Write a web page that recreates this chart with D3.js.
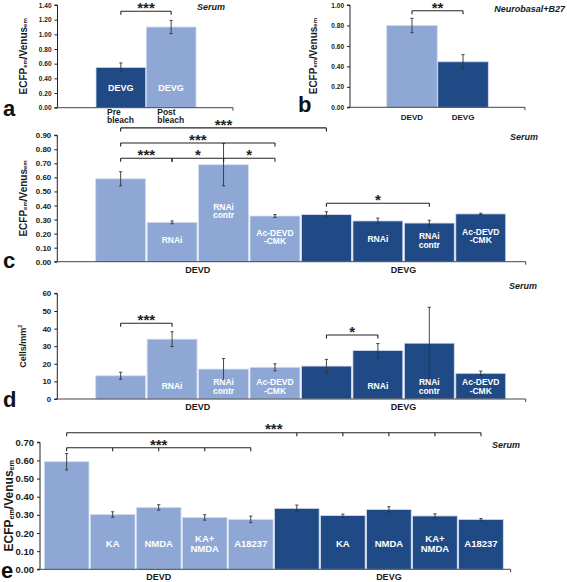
<!DOCTYPE html>
<html><head><meta charset="utf-8">
<script src="https://cdn.jsdelivr.net/npm/d3@7"></script>
<style>
body{margin:0;background:#fff}
svg{display:block}
text{font-family:"Liberation Sans",Arial,sans-serif;font-weight:bold}
</style>
</head><body>
<svg id="chart" width="567" height="582"></svg>
<script>
// ---------- DATA ----------
// Panel a (Serum)
const aCategories = ["Pre\nbleach", "Post\nbleach"];
const aBarLabels = ["DEVG", "DEVG"];
const aValues = [0.55, 1.10];
const aErrors = [0.06, 0.09];
const aTicks = [0, 0.2, 0.4, 0.6, 0.8, 1.0, 1.2, 1.4];

// Panel b (Neurobasal+B27)
const bCategories = ["DEVD", "DEVG"];
const bValues = [0.80, 0.445];
const bErrors = [0.07, 0.07];
const bTicks = [0, 0.2, 0.4, 0.6, 0.8, 1.0];

// Panel c (Serum) – ECFP/Venus ratio
const cGroups = ["DEVD", "DEVD", "DEVD", "DEVD", "DEVG", "DEVG", "DEVG", "DEVG"];
const cBarLabels = ["", "RNAi", "RNAi\ncontr", "Ac-DEVD\n-CMK", "", "RNAi", "RNAi\ncontr", "Ac-DEVD\n-CMK"];
const cValues = [0.59, 0.28, 0.69, 0.325, 0.335, 0.29, 0.275, 0.34];
const cErrors = [0.05, 0.01, 0.15, 0.01, 0.02, 0.02, 0.02, 0.005];
const cTicks = [0, 0.1, 0.2, 0.3, 0.4, 0.5, 0.6, 0.7, 0.8, 0.9];

// Panel d (Serum) – Cells/mm2
const dGroups = cGroups;
const dBarLabels = cBarLabels;
const dValues = [13.2, 34.0, 17.0, 18.0, 18.7, 27.5, 31.7, 14.6];
const dErrors = [2.0, 4.2, 6.0, 2.0, 3.8, 4.0, 20.4, 1.3];
const dTicks = [0, 10, 20, 30, 40, 50, 60];

// Panel e (Serum)
const eGroups = ["DEVD", "DEVD", "DEVD", "DEVD", "DEVD", "DEVG", "DEVG", "DEVG", "DEVG", "DEVG"];
const eBarLabels = ["", "KA", "NMDA", "KA+\nNMDA", "A18237", "", "KA", "NMDA", "KA+\nNMDA", "A18237"];
const eValues = [0.593, 0.302, 0.341, 0.286, 0.275, 0.336, 0.296, 0.330, 0.294, 0.275];
const eErrors = [0.045, 0.015, 0.015, 0.015, 0.018, 0.018, 0.008, 0.015, 0.012, 0.005];
const eTicks = [0, 0.1, 0.2, 0.3, 0.4, 0.5, 0.6, 0.7];

// ---------- STYLE ----------
const LIGHT = "#8ea7d4";
const DARK = "#1f4a86";
const svg = d3.select("#chart");

function yLabelRatio(g, x, y, size) {
  const t = g.append("text")
    .attr("transform", `translate(${x},${y}) rotate(-90)`)
    .attr("text-anchor", "middle").attr("dominant-baseline", "central")
    .attr("font-size", size).attr("fill", "#1a1a1a");
  t.append("tspan").text("ECFP");
  t.append("tspan").text("em").attr("font-size", size * 0.6).attr("dy", size * 0.22);
  t.append("tspan").text("/Venus").attr("dy", -size * 0.22);
  t.append("tspan").text("em").attr("font-size", size * 0.6).attr("dy", size * 0.22);
}

function multiline(g, text, cx, cy, size, lh, fill, anchor) {
  const lines = text.split("\n");
  const t = g.append("text").attr("text-anchor", anchor || "middle")
    .attr("font-size", size).attr("fill", fill);
  const first = cy - (lines.length - 1) * lh / 2 + size * 0.35;
  lines.forEach((l, i) => {
    t.append("tspan").attr("x", cx).attr("y", first + i * lh).text(l);
  });
}

function drawPanel(cfg) {
  const g = svg.append("g");
  const n = cfg.values.length;
  const x = d3.scaleBand().domain(d3.range(n)).range(cfg.barRange).paddingInner(cfg.pad).paddingOuter(0);
  const y = d3.scaleLinear().domain([0, cfg.yMax]).range([cfg.y0, cfg.yTop]);
  const cx = i => x(i) + x.bandwidth() / 2;

  // bars
  g.selectAll("rect.bar").data(cfg.values).join("rect")
    .attr("x", (d, i) => x(i)).attr("y", d => y(d))
    .attr("width", x.bandwidth()).attr("height", d => cfg.y0 - y(d))
    .attr("fill", (d, i) => cfg.color(i))
    .attr("stroke", "#d3ddef").attr("stroke-width", 0.8);

  // error bars
  cfg.values.forEach((v, i) => {
    const e = cfg.errors[i];
    const xx = cx(i);
    g.append("line").attr("x1", xx).attr("x2", xx).attr("y1", y(v + e)).attr("y2", y(v - e))
      .attr("stroke", "#333").attr("stroke-width", 0.9);
    [v + e, v - e].forEach(w => g.append("line").attr("x1", xx - 1.6).attr("x2", xx + 1.6)
      .attr("y1", y(w)).attr("y2", y(w)).attr("stroke", "#333").attr("stroke-width", 0.9));
  });

  // bar labels
  if (cfg.barLabels) {
    cfg.barLabels.forEach((l, i) => {
      if (!l) return;
      const v = cfg.values[i];
      const my = cfg.labelAt === "center" ? (y(v) + cfg.y0) / 2 - 2 : y(cfg.labelAt);
      multiline(g, l, cx(i), my, cfg.labelSize, cfg.labelSize * 1.0, "#fff");
    });
  }

  // y axis
  const ax = g.append("g").attr("transform", `translate(${cfg.axisX},0)`)
    .call(d3.axisLeft(y).tickValues(cfg.ticks).tickFormat(cfg.fmt).tickSize(3).tickPadding(3));
  ax.select(".domain").attr("stroke", "#222").attr("d", `M-3,${cfg.y0}H0V${cfg.yTop}H-3`);
  ax.selectAll(".tick line").attr("stroke", "#222");
  ax.selectAll(".tick text").attr("font-size", cfg.tickSize).attr("fill", "#1a1a1a")
    .attr("font-family", "Liberation Sans, Arial, sans-serif").attr("font-weight", "bold");

  // x axis line
  g.append("line").attr("x1", cfg.axisX).attr("x2", cfg.xEnd).attr("y1", cfg.y0).attr("y2", cfg.y0)
    .attr("stroke", "#444").attr("stroke-width", 1);
  g.append("line").attr("x1", cfg.xEnd).attr("x2", cfg.xEnd).attr("y1", cfg.y0).attr("y2", cfg.y0 + 3)
    .attr("stroke", "#444").attr("stroke-width", 1);

  // brackets
  (cfg.brackets || []).forEach(b => {
    const by = y(b.level);
    const x1 = cx(b.from), x2 = cx(b.to);
    g.append("line").attr("x1", x1).attr("x2", x2).attr("y1", by).attr("y2", by)
      .attr("stroke", "#222").attr("stroke-width", 1.1);
    b.ticks.forEach(t => g.append("line").attr("x1", cx(t)).attr("x2", cx(t)).attr("y1", by).attr("y2", by + 3.5)
      .attr("stroke", "#222").attr("stroke-width", 1.1));
    g.append("text").attr("x", (x1 + x2) / 2).attr("y", by + 1.8).attr("text-anchor", "middle")
      .attr("font-size", 15).attr("fill", "#222").text(b.stars);
  });

  // category labels
  if (cfg.groups) {
    const groups = Array.from(new Set(cfg.groups));
    groups.forEach(gr => {
      const idx = cfg.groups.map((d, i) => d === gr ? i : -1).filter(i => i >= 0);
      const mid = (x(idx[0]) + x(idx[idx.length - 1]) + x.bandwidth()) / 2;
      g.append("text").attr("x", mid).attr("y", cfg.y0 + cfg.catDy).attr("text-anchor", "middle")
        .attr("font-size", cfg.catSize).attr("fill", "#1a1a1a").text(gr);
    });
  }
  if (cfg.categories) {
    cfg.categories.forEach((c, i) => {
      if (cfg.catAnchor === "start") {
        multiline(g, c, x(i) + 11, cfg.y0 + cfg.catDy, cfg.catSize, cfg.catSize, "#1a1a1a", "start");
      } else {
        multiline(g, c, cx(i), cfg.y0 + cfg.catDy, cfg.catSize, cfg.catSize, "#1a1a1a");
      }
    });
  }

  // y label
  if (cfg.yLabel === "ratio") yLabelRatio(g, cfg.yLabelX, (cfg.y0 + cfg.yTop) / 2, cfg.yLabelSize);
  else {
    const t = g.append("text")
      .attr("transform", `translate(${cfg.yLabelX},${(cfg.y0 + cfg.yTop) / 2}) rotate(-90)`)
      .attr("text-anchor", "middle").attr("dominant-baseline", "central")
      .attr("font-size", cfg.yLabelSize).attr("fill", "#1a1a1a");
    t.append("tspan").text("Cells/mm");
    t.append("tspan").text("2").attr("font-size", cfg.yLabelSize * 0.6).attr("dy", -cfg.yLabelSize * 0.35);
  }

  // medium note
  g.append("text").attr("x", cfg.note.x).attr("y", cfg.note.y).attr("text-anchor", cfg.note.anchor || "start")
    .attr("font-size", 9).attr("font-style", "italic").attr("fill", "#1a1a1a").text(cfg.note.text);

  // panel letter
  g.append("text").attr("x", cfg.letter.x).attr("y", cfg.letter.y).attr("font-size", 22)
    .attr("fill", "#111").text(cfg.letter.text);
}

const f2 = d3.format(".2f");
const byGroup = groups => i => groups[i] === "DEVD" ? LIGHT : DARK;

drawPanel({
  values: aValues, errors: aErrors, barLabels: aBarLabels, categories: aCategories, catAnchor: "start",
  color: i => i === 0 ? DARK : LIGHT,
  barRange: [96, 196], pad: 0.01, y0: 107.7, yTop: 5, yMax: 1.4, ticks: aTicks, fmt: f2, tickSize: 6.5,
  axisX: 57.5, xEnd: 233, labelAt: 0.27, labelSize: 9, catDy: 8.5, catSize: 8.5,
  brackets: [{from: 0, to: 1, ticks: [0, 1], level: 1.314, stars: "***"}],
  yLabel: "ratio", yLabelX: 23, yLabelSize: 10,
  note: {x: 197, y: 10, text: "Serum"}, letter: {x: 3, y: 116, text: "a"}
});

drawPanel({
  values: bValues, errors: bErrors, categories: bCategories,
  color: i => i === 0 ? LIGHT : DARK,
  barRange: [386.7, 488.3], pad: 0.01, y0: 107.3, yTop: 5, yMax: 1.0, ticks: bTicks, fmt: f2, tickSize: 6.5,
  axisX: 350, xEnd: 525, catDy: 10, catSize: 8,
  brackets: [{from: 0, to: 1, ticks: [0, 1], level: 0.944, stars: "**"}],
  yLabel: "ratio", yLabelX: 313, yLabelSize: 10,
  note: {x: 565, y: 12, text: "Neurobasal+B27", anchor: "end"}, letter: {x: 298, y: 112, text: "b"}
});

drawPanel({
  values: cValues, errors: cErrors, barLabels: cBarLabels, groups: cGroups,
  color: byGroup(cGroups),
  barRange: [95.7, 505.7], pad: 0.03, y0: 261.7, yTop: 135.2, yMax: 0.9, ticks: cTicks, fmt: f2, tickSize: 8,
  axisX: 57.3, xEnd: 525.7, labelAt: "center", labelSize: 8.5, catDy: 11, catSize: 9,
  brackets: [
    {from: 0, to: 4, ticks: [0, 4], level: 0.952, stars: "***"},
    {from: 0, to: 3, ticks: [0, 3], level: 0.845, stars: "***"},
    {from: 0, to: 1, ticks: [0, 1], level: 0.736, stars: "***"},
    {from: 1, to: 2, ticks: [1, 2], level: 0.736, stars: "*"},
    {from: 2, to: 3, ticks: [2, 3], level: 0.736, stars: "*"},
    {from: 4, to: 6, ticks: [4, 6], level: 0.416, stars: "*"}
  ],
  yLabel: "ratio", yLabelX: 23, yLabelSize: 10,
  note: {x: 510, y: 140, text: "Serum"}, letter: {x: 3, y: 268, text: "c"}
});

drawPanel({
  values: dValues, errors: dErrors, barLabels: dBarLabels, groups: dGroups,
  color: byGroup(dGroups),
  barRange: [95.7, 505.7], pad: 0.03, y0: 399, yTop: 293.4, yMax: 60, ticks: dTicks, fmt: d3.format("d"), tickSize: 8,
  axisX: 57.3, xEnd: 525.7, labelAt: 7.1, labelSize: 8.5, catDy: 11, catSize: 9,
  brackets: [
    {from: 0, to: 1, ticks: [0, 1], level: 43.0, stars: "***"},
    {from: 4, to: 5, ticks: [4, 5], level: 36.4, stars: "*"}
  ],
  yLabel: "cells", yLabelX: 23, yLabelSize: 9,
  note: {x: 509, y: 289, text: "Serum"}, letter: {x: 3, y: 407, text: "d"}
});

drawPanel({
  values: eValues, errors: eErrors, barLabels: eBarLabels, groups: eGroups,
  color: byGroup(eGroups),
  barRange: [44.3, 503.3], pad: 0.03, y0: 569.3, yTop: 442.3, yMax: 0.7, ticks: eTicks, fmt: f2, tickSize: 9.5,
  axisX: 40, xEnd: 510.7, labelAt: 0.142, labelSize: 9.5, catDy: 10.5, catSize: 9,
  brackets: [
    {from: 0, to: 9, ticks: [0, 5, 6, 7, 8, 9], level: 0.753, stars: "***"},
    {from: 0, to: 4, ticks: [0, 1, 2, 3, 4], level: 0.670, stars: "***"}
  ],
  yLabel: "ratio", yLabelX: 8.5, yLabelSize: 12,
  note: {x: 492, y: 448, text: "Serum"}, letter: {x: 1, y: 578, text: "e"}
});
</script>
</body></html>
